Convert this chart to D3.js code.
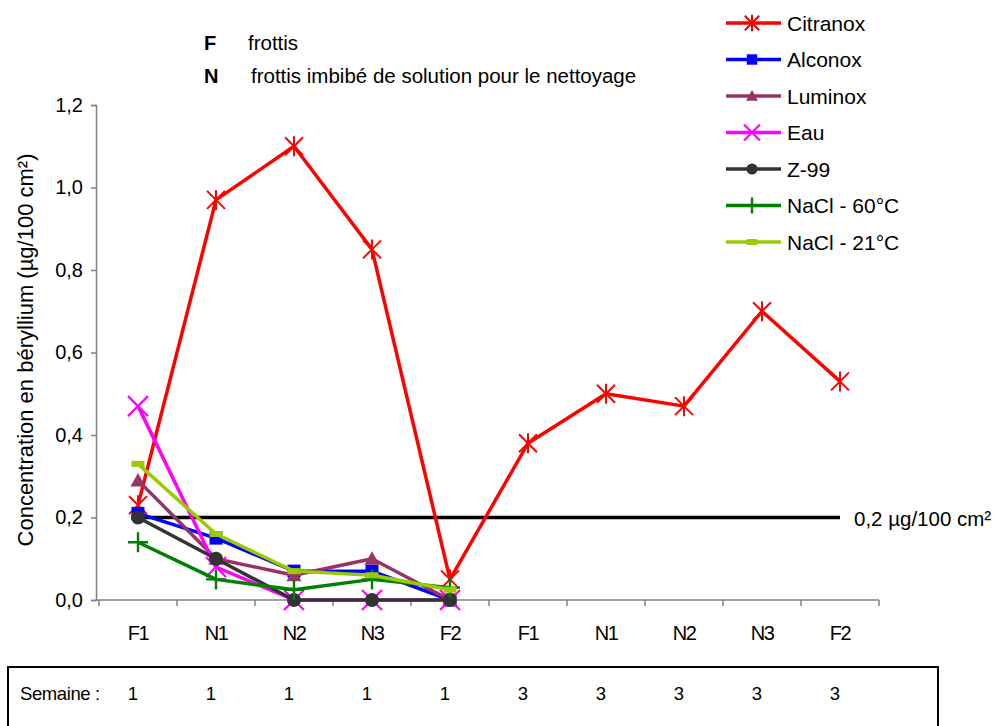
<!DOCTYPE html>
<html><head><meta charset="utf-8">
<script src="https://cdn.jsdelivr.net/npm/d3@7/dist/d3.min.js"></script>
<style>body{margin:0;background:#fff;} text{font-family:"Liberation Sans",Arial,sans-serif;}</style>
</head><body><svg id="c" width="998" height="726"></svg>
<script>
const categories = ["F1","N1","N2","N3","F2","F1","N1","N2","N3","F2"];
const weeks = ["1","1","1","1","1","3","3","3","3","3"];
const yTicks = [0,0.2,0.4,0.6,0.8,1.0,1.2];
const threshold = 0.2;
const citranox = [0.23,0.97,1.10,0.85,0.05,0.38,0.50,0.47,0.70,0.53];
const alconox  = [0.21,0.15,0.07,0.07,0.00];
const luminox  = [0.29,0.10,0.06,0.10,0.00];
const eau      = [0.47,0.08,0.00,0.00,0.00];
const z99      = [0.20,0.10,0.00,0.00,0.00];
const nacl60   = [0.14,0.05,0.025,0.05,0.03];
const nacl21   = [0.33,0.16,0.07,0.06,0.025];
const seriesNames = ["Citranox","Alconox","Luminox","Eau","Z-99","NaCl - 60°C","NaCl - 21°C"];
const seriesColors = ["#ff0000","#0000ff","#993366","#ff00ff","#333333","#008000","#99cc00"];
const seriesMarkers = ["star","square","triangle","x","circle","plus","dash"];
const seriesData = [citranox,alconox,luminox,eau,z99,nacl60,nacl21];

const svg = d3.select("#c");
const x = d3.scaleBand().domain(d3.range(categories.length)).range([99,879]);
const y = d3.scaleLinear().domain([0,1.2]).range([600,105]);
const cx = i => x(i) + x.bandwidth()/2;
const FF = "'Liberation Sans',Arial,sans-serif";

// y axis
const ya = svg.append("g").attr("transform","translate(96,0)")
  .call(d3.axisLeft(y).tickValues(yTicks).tickSize(5).tickFormat(d=>d3.format(".1f")(d).replace(".",",")));
ya.select(".domain").attr("stroke","#808080").attr("stroke-width",1.5);
ya.selectAll(".tick line").attr("stroke","#808080").attr("stroke-width",1.5);
ya.selectAll(".tick text").attr("font-size",20).attr("fill","#000").attr("x",-13)
  .style("font-family",FF);

// x axis
const xa = svg.append("g").attr("transform","translate(0,600)")
  .call(d3.axisBottom(x).tickSize(0).tickFormat(i=>categories[i]));
xa.select(".domain").attr("stroke","#808080").attr("stroke-width",1.5).attr("d","M96,0H879");
xa.selectAll(".tick text").attr("font-size",20).attr("fill","#000").attr("dy",0).attr("y",40)
  .style("font-family",FF).style("letter-spacing","-1.5px");
const bounds = d3.range(categories.length+1).map(i => i<categories.length ? x(i) : x.range()[1]);
svg.append("g").selectAll("line").data(bounds).join("line")
  .attr("x1",d=>d).attr("x2",d=>d).attr("y1",600).attr("y2",606)
  .attr("stroke","#808080").attr("stroke-width",1.5);

// y title
svg.append("text").attr("transform","translate(33,350) rotate(-90)").attr("text-anchor","middle")
  .attr("font-size",22).text("Concentration en béryllium (µg/100 cm²)");

// threshold
svg.append("line").attr("x1",cx(0)).attr("x2",cx(9)).attr("y1",y(threshold)).attr("y2",y(threshold))
  .attr("stroke","#000").attr("stroke-width",3.5);
svg.append("text").attr("x",854).attr("y",y(threshold)+8).attr("font-size",20.5).text("0,2 µg/100 cm²");

function marker(g, type, color, px, py, s) {
  s = s || 1;
  if (type==="star") {
    const r=9*s;
    g.append("path").attr("d",`M${px-r},${py-r}L${px+r},${py+r}M${px-r},${py+r}L${px+r},${py-r}M${px},${py-r-1}L${px},${py+r+1}`)
      .attr("stroke",color).attr("stroke-width",2).attr("fill","none");
  } else if (type==="square") {
    g.append("rect").attr("x",px-6.5*s).attr("y",py-6.5*s).attr("width",13*s).attr("height",13*s).attr("fill",color);
  } else if (type==="triangle") {
    const r=7.5*s;
    g.append("path").attr("d",`M${px},${py-r}L${px+r},${py+r*0.8}L${px-r},${py+r*0.8}Z`).attr("fill",color);
  } else if (type==="x") {
    const r=10*s;
    g.append("path").attr("d",`M${px-r},${py-r}L${px+r},${py+r}M${px-r},${py+r}L${px+r},${py-r}`)
      .attr("stroke",color).attr("stroke-width",2.2).attr("fill","none");
  } else if (type==="circle") {
    g.append("circle").attr("cx",px).attr("cy",py).attr("r",7*s).attr("fill",color);
  } else if (type==="plus") {
    const r=10*s;
    g.append("path").attr("d",`M${px-r},${py}L${px+r},${py}M${px},${py-r}L${px},${py+r}`)
      .attr("stroke",color).attr("stroke-width",2.4).attr("fill","none");
  } else if (type==="dash") {
    g.append("rect").attr("x",px-6.5*s).attr("y",py-3).attr("width",13*s).attr("height",6).attr("fill",color);
  }
}

const line = d3.line().x((d,i)=>cx(i)).y(d=>y(d));
seriesData.forEach((data,k)=>{
  const g = svg.append("g");
  g.append("path").datum(data).attr("d",line).attr("fill","none")
    .attr("stroke",seriesColors[k]).attr("stroke-width",3.5).attr("stroke-linejoin","round");
  data.forEach((v,i)=>marker(g, seriesMarkers[k], seriesColors[k], cx(i), y(v)));
});

// legend
const lg = svg.append("g");
seriesNames.forEach((n,k)=>{
  const ly = 23 + k*36.5;
  lg.append("line").attr("x1",726).attr("x2",781).attr("y1",ly).attr("y2",ly)
    .attr("stroke",seriesColors[k]).attr("stroke-width",3.5);
  marker(lg, seriesMarkers[k], seriesColors[k], 752, ly, 0.8);
  lg.append("text").attr("x",787).attr("y",ly+7.5).attr("font-size",21).text(n);
});

// annotations
svg.append("text").attr("x",204).attr("y",50).attr("font-size",20).attr("font-weight","bold").text("F");
svg.append("text").attr("x",248).attr("y",50).attr("font-size",20.5).text("frottis");
svg.append("text").attr("x",204).attr("y",83).attr("font-size",20).attr("font-weight","bold").text("N");
svg.append("text").attr("x",251).attr("y",83).attr("font-size",20.5).text("frottis imbibé de solution pour le nettoyage");

// week box
svg.append("path").attr("d","M8,740V667H938V740").attr("fill","none").attr("stroke","#000").attr("stroke-width",2);
svg.append("text").attr("x",20).attr("y",700).attr("font-size",18.5).style("letter-spacing","-0.4px").text("Semaine :");
svg.append("g").selectAll("text").data(weeks).join("text")
  .attr("x",(d,i)=>cx(i)-5).attr("y",700).attr("font-size",18.5).attr("text-anchor","middle").text(d=>d);
</script></body></html>
